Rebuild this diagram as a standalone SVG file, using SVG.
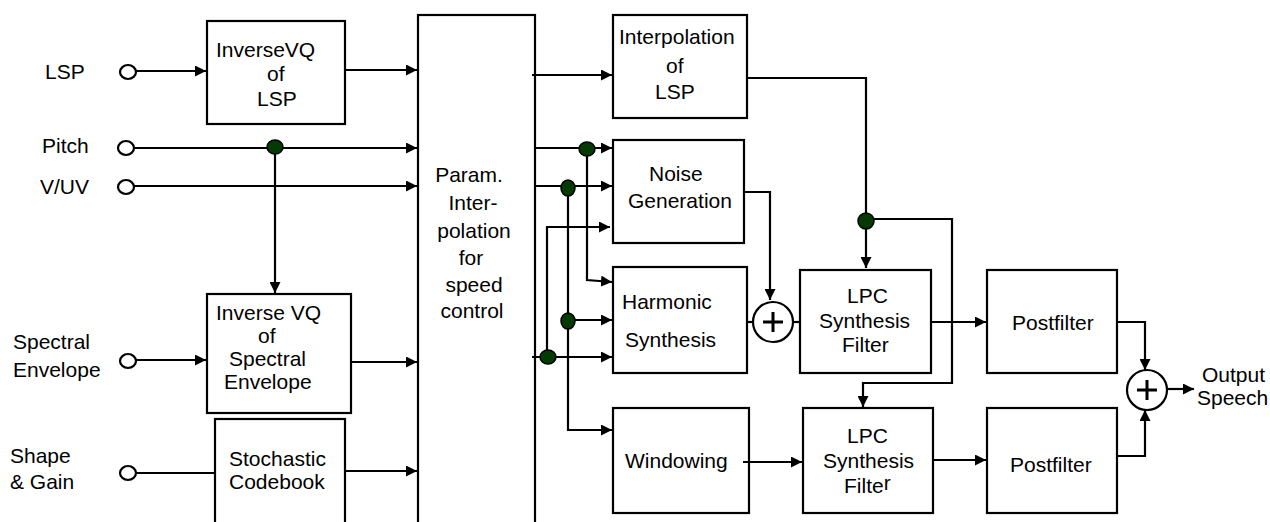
<svg xmlns="http://www.w3.org/2000/svg" width="1270" height="522" viewBox="0 0 1270 522">
<style>
  .box{fill:#fff;stroke:#000;stroke-width:2.2}
  .t{font-family:"Liberation Sans",Arial,sans-serif;font-size:21px;fill:#000}
  .m{text-anchor:middle}
  .w{fill:none;stroke:#000;stroke-width:2.2}
  .a{marker-end:url(#ah)}
  .port{fill:#fff;stroke:#000;stroke-width:2.2}
  .dot{fill:#053a05;stroke:#000;stroke-width:1.5}
  .sum{fill:#fff;stroke:#000;stroke-width:2.2}
  .plus{stroke:#000;stroke-width:3;fill:none}
</style>
<defs>
  <marker id="ah" viewBox="0 0 10 10" refX="10" refY="5" markerWidth="11" markerHeight="11" markerUnits="userSpaceOnUse" orient="auto">
    <path d="M0,0 L10,5 L0,10 z" fill="#000"/>
  </marker>
</defs>
<rect width="1270" height="522" fill="#fff"/>

<g id="labels">
  <text class="t" x="45" y="79">LSP</text>
  <text class="t" x="42" y="153">Pitch</text>
  <text class="t" x="40" y="194">V/UV</text>
  <text class="t" x="13" y="349">Spectral</text>
  <text class="t" x="13" y="377">Envelope</text>
  <text class="t" x="10" y="463">Shape</text>
  <text class="t" x="10" y="489">&amp; Gain</text>
  <text class="t" x="1202" y="382">Output</text>
  <text class="t" x="1197" y="405">Speech</text>
</g>

<g id="node-invvq-lsp">
  <rect class="box" x="207" y="21" width="138" height="103"/>
  <text class="t" x="216" y="57">InverseVQ</text>
  <text class="t" x="267" y="81">of</text>
  <text class="t" x="257" y="106">LSP</text>
</g>
<g id="node-invvq-spec">
  <rect class="box" x="207" y="294" width="144" height="119"/>
  <text class="t" x="216" y="320">Inverse VQ</text>
  <text class="t" x="258" y="343">of</text>
  <text class="t" x="229" y="366">Spectral</text>
  <text class="t" x="224" y="389">Envelope</text>
</g>
<g id="node-stochastic">
  <rect class="box" x="215" y="419" width="130" height="115"/>
  <text class="t" x="229" y="466">Stochastic</text>
  <text class="t" x="229" y="489">Codebook</text>
</g>
<g id="node-param">
  <rect class="box" x="418" y="15" width="117" height="520"/>
  <text class="t m" x="469" y="182">Param.</text>
  <text class="t m" x="473" y="210">Inter-</text>
  <text class="t m" x="474" y="238">polation</text>
  <text class="t m" x="471" y="265">for</text>
  <text class="t m" x="474" y="292">speed</text>
  <text class="t m" x="472" y="318">control</text>
</g>
<g id="node-interp-lsp">
  <rect class="box" x="613" y="15" width="134" height="103"/>
  <text class="t" x="619" y="44">Interpolation</text>
  <text class="t" x="666" y="73">of</text>
  <text class="t" x="655" y="99">LSP</text>
</g>
<g id="node-noise">
  <rect class="box" x="613" y="140" width="131" height="103"/>
  <text class="t" x="649" y="181">Noise</text>
  <text class="t" x="628" y="208">Generation</text>
</g>
<g id="node-harmonic">
  <rect class="box" x="613" y="267" width="134" height="106"/>
  <text class="t" x="622" y="309">Harmonic</text>
  <text class="t" x="625" y="347">Synthesis</text>
</g>
<g id="node-windowing">
  <rect class="box" x="613" y="408" width="136" height="105"/>
  <text class="t" x="625" y="468">Windowing</text>
</g>
<g id="node-sum1">
  <circle class="sum" cx="773" cy="322" r="20"/>
  <path class="plus" d="M763,322 H783 M773,312 V332"/>
</g>
<g id="node-lpc1">
  <rect class="box" x="800" y="270" width="131" height="103"/>
  <text class="t" x="847" y="303">LPC</text>
  <text class="t" x="819" y="328">Synthesis</text>
  <text class="t" x="842" y="352">Filter</text>
</g>
<g id="node-lpc2">
  <rect class="box" x="803" y="408" width="130" height="105"/>
  <text class="t" x="847" y="443">LPC</text>
  <text class="t" x="823" y="468">Synthesis</text>
  <text class="t" x="844" y="493">Filte<tspan dy="-3">r</tspan></text>
</g>
<g id="node-postfilter1">
  <rect class="box" x="987" y="270" width="130" height="103"/>
  <text class="t" x="1012" y="330">Postfilter</text>
</g>
<g id="node-postfilter2">
  <rect class="box" x="987" y="408" width="130" height="105"/>
  <text class="t" x="1010" y="472">Postfilter</text>
</g>
<g id="node-sum2">
  <circle class="sum" cx="1147" cy="390" r="20"/>
  <path class="plus" d="M1137,390 H1157 M1147,380 V400"/>
</g>

<g id="connectors">
  <path class="w a" d="M136,71 H206"/>
  <path class="w a" d="M345,70 H417"/>
  <path class="w a" d="M134,148 H417"/>
  <path class="w a" d="M275,147 V293"/>
  <path class="w a" d="M134,186 H417"/>
  <path class="w a" d="M136,360 H206"/>
  <path class="w a" d="M351,362 H417"/>
  <path class="w" d="M136,473 H215"/>
  <path class="w a" d="M345,471 H417"/>
  <path class="w a" d="M532,75 H612"/>
  <path class="w a" d="M535,148 H612"/>
  <path class="w a" d="M535,186 H612"/>
  <path class="w a" d="M547,227 H610"/>
  <path class="w" d="M547,226 V357"/>
  <path class="w a" d="M532,357 H612"/>
  <path class="w a" d="M587,148 V280 L612,282"/>
  <path class="w a" d="M568,188 V430 H612"/>
  <path class="w a" d="M568,320 H612"/>
  <path class="w a" d="M747,78 H866 V268"/>
  <path class="w a" d="M866,219 H952 V383 H863 V407"/>
  <path class="w a" d="M744,192 H770 V300"/>
  <path class="w" d="M747,322 H753"/>
  <path class="w" d="M793,322 H800"/>
  <path class="w a" d="M931,322 H986"/>
  <path class="w a" d="M743,462 H802"/>
  <path class="w a" d="M933,460 H986"/>
  <path class="w a" d="M1117,322 H1145 V370"/>
  <path class="w a" d="M1117,456 H1145 V410"/>
  <path class="w a" d="M1167,389 H1194"/>
  <ellipse class="port" cx="128" cy="72" rx="8" ry="7"/>
  <ellipse class="port" cx="126" cy="148" rx="8" ry="7"/>
  <ellipse class="port" cx="126" cy="187" rx="8" ry="7"/>
  <ellipse class="port" cx="128" cy="361" rx="8" ry="7"/>
  <ellipse class="port" cx="128" cy="473" rx="8" ry="7"/>
  <ellipse class="dot" cx="275" cy="147" rx="8" ry="7"/>
  <ellipse class="dot" cx="587" cy="149" rx="8" ry="7"/>
  <ellipse class="dot" cx="568" cy="188" rx="7" ry="8"/>
  <ellipse class="dot" cx="568" cy="321" rx="7" ry="8"/>
  <ellipse class="dot" cx="548" cy="357" rx="8" ry="7"/>
  <ellipse class="dot" cx="866" cy="221" rx="8" ry="8"/>
</g>
</svg>
